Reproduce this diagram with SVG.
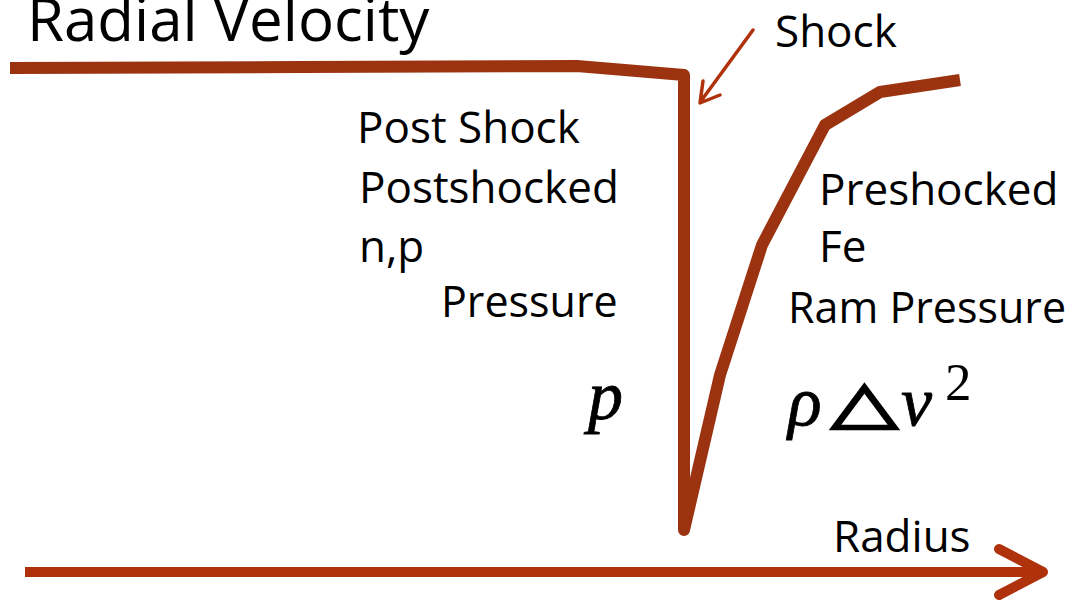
<svg xmlns="http://www.w3.org/2000/svg" width="1071" height="600" viewBox="0 0 1071 600">
<style>
.t{font-family:"Open Sans","Noto Sans",sans-serif;fill:#000;font-size:44px}
.m{font-family:"Liberation Serif","DejaVu Serif",serif;font-style:italic;fill:#000}
.curve{fill:none;stroke:#9b3311;stroke-width:12;stroke-linejoin:round;stroke-linecap:round}
.ax{fill:none;stroke:#b0320c;stroke-width:10;stroke-linecap:round;stroke-linejoin:round}
.sh{fill:none;stroke:#b0320c;stroke-width:3.5;stroke-linecap:round;stroke-linejoin:round}
</style>
<rect width="1071" height="600" fill="#fff"/>
<g id="title"><text class="t" x="27" y="41" style="font-size:60px">Radial Velocity</text></g>
<g id="connectors">
<polyline class="curve" style="stroke-linecap:butt" points="10,68 300,67 577,66 684,75 684,530 720,375 762,245 825,125 880,92 960,80"/>
<path class="sh" d="M753,30 L701,101 M703,81 L700,103 L720,95"/>
<path class="ax" style="stroke-linecap:butt" d="M25,572 L1040,572"/>
<path class="ax" d="M999,549 L1043,572 L999,595"/>
</g>
<g id="shock"><text class="t" x="775" y="47">Shock</text></g>
<g id="post">
<text class="t" x="357" y="143">Post Shock</text>
<text class="t" x="359" y="203">Postshocked</text>
<text class="t" x="359" y="262">n,p</text>
<text class="t" x="441" y="317" style="font-size:43px">Pressure</text>
<text class="m" x="588" y="419" style="font-size:70px;stroke:#000;stroke-width:0.8">p</text>
</g>
<g id="pre">
<text class="t" x="788" y="323" style="font-size:43px">Ram Pressure</text>
<text class="t" x="819" y="205">Preshocked</text>
<text class="t" x="819" y="262">Fe</text>
<text class="m" x="788" y="425" style="font-size:70px;stroke:#000;stroke-width:0.8">ρ</text>
<text transform="translate(831,422) scale(1.5,1)" style="font-family:'DejaVu Sans',sans-serif;font-size:58px;fill:#000;stroke:#000;stroke-width:2.2;stroke-linejoin:miter">△</text>
<text class="m" x="901" y="425" style="font-size:70px;stroke:#000;stroke-width:0.8">v</text>
<text x="945" y="400" style="font-family:'Liberation Serif',serif;font-size:53px;fill:#000">2</text>
</g>
<g id="radius"><text class="t" x="833" y="552">Radius</text></g>
</svg>
